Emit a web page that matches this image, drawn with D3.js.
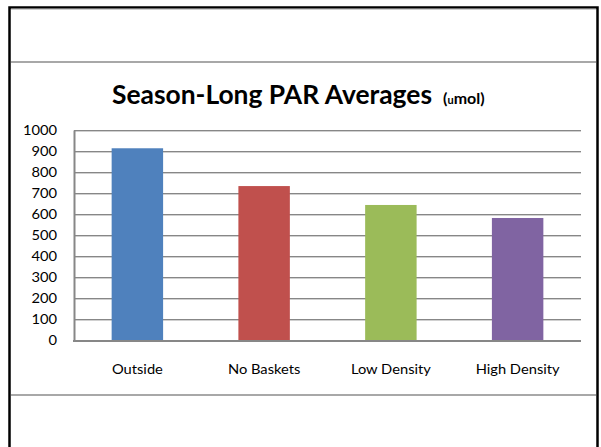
<!DOCTYPE html>
<html>
<head>
<meta charset="utf-8">
<script src="https://cdn.jsdelivr.net/npm/d3@7"></script>
<style>
  html, body { margin: 0; padding: 0; background: #fff; }
  svg { display: block; }
  text { font-family: Lato, "Open Sans", sans-serif; fill: #000; }
</style>
</head>
<body>
<svg id="chart" width="601" height="447"></svg>
<script>
const categories = ["Outside", "No Baskets", "Low Density", "High Density"];
const values = [913, 733, 643, 581];
const colors = ["#4F81BD", "#C0504D", "#9BBB59", "#8064A2"];
const yTicks = [0, 100, 200, 300, 400, 500, 600, 700, 800, 900, 1000];
const titleMain = "Season-Long PAR Averages";
const titleUnit = ["(", "u", "mol)"];

const svg = d3.select("#chart");

function stretch(sel, f) {
  sel.each(function () {
    const w = this.getComputedTextLength();
    d3.select(this).attr("textLength", w * f).attr("lengthAdjust", "spacingAndGlyphs");
  });
}

// frame
svg.append("rect").attr("x", 9.5).attr("y", 7.5).attr("width", 588).attr("height", 460)
  .attr("fill", "#fff").attr("stroke", "#000").attr("stroke-width", 2.5);
svg.append("line").attr("x1", 11).attr("x2", 596).attr("y1", 9).attr("y2", 9)
  .attr("stroke", "#a0a0a0").attr("stroke-width", 1);
svg.append("line").attr("x1", 11).attr("x2", 596).attr("y1", 62).attr("y2", 62)
  .attr("stroke", "#a8a8a8").attr("stroke-width", 2);
svg.append("line").attr("x1", 11).attr("x2", 596).attr("y1", 395).attr("y2", 395)
  .attr("stroke", "#a8a8a8").attr("stroke-width", 2);

const x0 = 74, x1 = 581, yTop = 130, yBot = 340;
const x = d3.scaleBand().domain(categories).range([x0, x1]).paddingInner(0.594).paddingOuter(0.297);
const y = d3.scaleLinear().domain([0, 1000]).range([yBot, yTop]);

// gridlines
const g = svg.append("g");
yTicks.filter(t => t > 0).forEach(t => {
  g.append("line").attr("x1", x0).attr("x2", x1).attr("y1", Math.round(y(t)) + 0.5).attr("y2", Math.round(y(t)) + 0.5)
    .attr("stroke", "#878787").attr("stroke-width", 1);
  g.append("line").attr("x1", x0).attr("x2", x1).attr("y1", Math.round(y(t)) + 1.5).attr("y2", Math.round(y(t)) + 1.5)
    .attr("stroke", "#d0d0d0").attr("stroke-width", 1);
});

// bars
svg.append("g").selectAll("rect").data(values).join("rect")
  .attr("x", (d, i) => x(categories[i]))
  .attr("width", x.bandwidth())
  .attr("y", d => y(d))
  .attr("height", d => y(0) - y(d))
  .attr("fill", (d, i) => colors[i]);

// y axis
const yAxis = d3.axisLeft(y).tickValues(yTicks).tickSize(0).tickPadding(17).tickFormat(d3.format("d"));
const ya = svg.append("g").attr("transform", `translate(${x0},0)`).call(yAxis);
ya.select(".domain").attr("stroke", "#878787").attr("stroke-width", 2);
ya.selectAll("text").attr("font-family", "Lato").attr("font-size", 13).attr("fill", "#000").call(stretch, 1.13);

// baseline
svg.append("line").attr("x1", x0 - 1).attr("x2", x1).attr("y1", yBot + 1).attr("y2", yBot + 1)
  .attr("stroke", "#878787").attr("stroke-width", 2);

// x axis
const xAxis = d3.axisBottom(x).tickSize(0).tickPadding(25);
const xa = svg.append("g").attr("transform", `translate(0,${yBot})`).call(xAxis);
xa.select(".domain").remove();
xa.selectAll("text").attr("font-family", "Lato").attr("font-size", 13).attr("fill", "#000").call(stretch, 1.13);

// title
const t = svg.append("text").attr("x", 112).attr("y", 104)
  .attr("font-weight", "bold").attr("font-size", 26);
const tm = t.append("tspan").text(titleMain);
tm.attr("textLength", 320).attr("lengthAdjust", "spacingAndGlyphs");
t.append("tspan").attr("x", 443).attr("font-size", 16).text(titleUnit[0]);
t.append("tspan").attr("font-size", 11).text(titleUnit[1]);
t.append("tspan").attr("font-size", 16).text(titleUnit[2]);
</script>
</body>
</html>
